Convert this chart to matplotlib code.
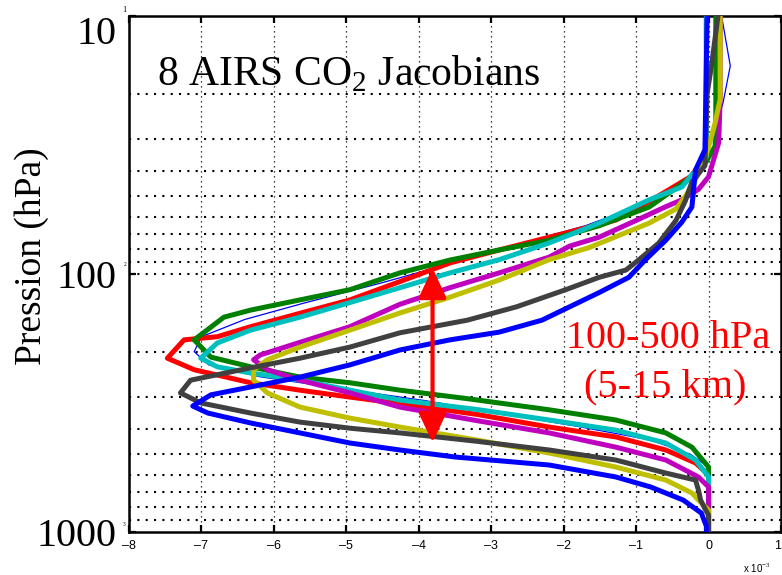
import matplotlib
matplotlib.use("Agg")
import matplotlib.pyplot as plt
from matplotlib.patches import FancyArrowPatch
from matplotlib.ticker import FixedLocator, FuncFormatter, NullLocator

# Jacobian profiles: pressure (hPa) and value (x 1e-3)
P_BLUE = [10, 33, 39.5, 55, 63, 74, 88, 103, 118, 151, 168, 180, 197, 225, 251, 274, 294, 325,
          346, 378, 413, 452, 481, 512, 550, 612, 669, 752, 844, 950, 1000]
X_BLUE = [-0.02, -0.05, -0.18, -0.23, -0.37, -0.59, -0.87, -1.10, -1.51, -2.30, -2.89, -3.57, -4.26,
          -4.95, -5.64, -6.32, -6.87, -7.12, -6.91, -6.32, -5.64, -4.95, -4.26, -3.5, -2.20, -1.28,
          -0.8, -0.35, -0.10, -0.03, -0.03]

P_GRAY = [10, 15.6, 20, 38, 44, 52, 62, 76, 88, 96.5, 103, 115, 134, 151, 169, 192, 212, 231, 258,
          289, 316, 346, 375, 396, 413, 445, 481, 526, 591, 629, 687, 752, 822, 860, 1000]
X_GRAY = [0.13, 0.04, -0.02, -0.05, -0.23, -0.32, -0.45, -0.69, -0.96, -1.14, -1.51, -1.97, -2.65,
          -3.33, -4.26, -4.95, -5.64, -6.32, -7.15, -7.29, -7.01, -6.32, -5.64, -4.95, -4.26, -3.2,
          -2.20, -1.28, -0.59, -0.18, -0.14, -0.11, -0.04, 0.0, 0.0]

P_YELLOW = [10, 21, 26, 30, 36, 43, 50, 56, 63.5, 74, 79, 88, 105.5, 123, 141.6, 165, 192, 215, 235,
            258, 289, 328, 362, 392, 440, 494, 560, 629, 706, 752, 822, 1000]
X_YELLOW = [0.16, 0.16, 0.09, 0.03, -0.05, -0.18, -0.32, -0.45, -0.82, -1.4, -1.65, -2.2, -2.89,
            -3.57, -4.26, -4.95, -5.64, -6.09, -6.28, -6.28, -6.09, -5.64, -4.95, -4.26, -3.2, -2.2,
            -1.28, -0.59, -0.23, -0.14, 0.0, 0.0]

P_MAGENTA = [10, 21, 31, 38.5, 42, 47, 51.6, 55, 62, 72, 78, 86, 99, 113, 131, 160, 184, 206, 215,
             235, 258, 289, 328, 370, 413, 469, 526, 612, 669, 1000]
X_MAGENTA = [0.16, 0.16, 0.14, 0.04, 0.0, -0.14, -0.37, -0.6, -1.0, -1.51, -1.92, -2.2, -2.89,
             -3.57, -4.26, -4.95, -5.64, -6.19, -6.28, -6.09, -5.64, -4.95, -4.26, -3.2, -2.2,
             -1.28, -0.59, -0.14, 0.0, 0.0]

P_CYAN = [10, 35, 40, 41.3, 46, 51.6, 63.5, 75.8, 88, 99, 113, 129, 147, 165, 185, 212, 229, 242,
          258, 282, 308, 335, 368, 403, 452, 526, 612, 1000]
X_CYAN = [-0.03, -0.03, -0.18, -0.23, -0.37, -0.82, -1.51, -2.2, -2.89, -3.57, -4.26, -4.95, -5.64,
          -6.32, -6.78, -7.01, -6.78, -6.32, -5.64, -4.95, -4.26, -3.2, -2.2, -1.28, -0.59, -0.18,
          0.0, 0.0]

P_RED = [10, 35, 42, 50, 61.8, 72, 80.7, 90.6, 107, 126, 142, 160, 175, 180, 212, 235, 264, 282,
         300, 318, 350, 392, 428, 481, 540, 600, 1000]
X_RED = [-0.03, -0.03, -0.25, -0.7, -1.28, -2.2, -2.89, -3.57, -4.26, -4.95, -5.64, -6.32, -6.78,
         -7.24, -7.47, -7.1, -6.32, -5.64, -4.95, -4.26, -3.2, -2.2, -1.28, -0.59, -0.18, 0.0, 0.0]

P_GREEN = [10, 28, 32, 37, 42, 55, 65, 74, 80.7, 88.3, 99, 115, 126, 138, 147, 180, 210, 229, 251,
           264, 282, 305, 336, 368, 413, 469, 560, 1000]
X_GREEN = [0.1, 0.1, 0.09, -0.04, -0.23, -0.82, -1.51, -2.2, -2.89, -3.57, -4.26, -4.95, -5.64,
           -6.32, -6.69, -7.1, -6.87, -6.32, -5.64, -4.95, -4.26, -3.3, -2.2, -1.28, -0.59, -0.23,
           0.0, 0.0]

P_THIN = [10, 15.6, 21.7, 30, 38, 45, 55, 65, 75, 90, 108, 130, 150, 175, 200, 225, 250, 280, 310,
          350, 390, 440, 500, 560, 1000]
X_THIN = [0.18, 0.3, 0.2, 0.05, -0.1, -0.4, -1.0, -1.7, -2.5, -3.5, -4.5, -5.6, -6.4, -7.0, -7.1,
          -6.9, -6.2, -5.0, -3.9, -2.8, -1.8, -0.8, -0.25, 0.0, 0.0]

X_TICKS = [-8, -7, -6, -5, -4, -3, -2, -1, 0, 1]
Y_TICKS = [10, 100, 1000]
Y_GRID = [20, 30, 40, 50, 60, 70, 80, 90, 100, 200, 300, 400, 500, 600, 700, 800, 900]
ARROW_TOP, ARROW_BOTTOM, ARROW_X = 95, 450, -3.81

SERIF = "Liberation Serif"
plt.rcParams["mathtext.fontset"] = "custom"
plt.rcParams["mathtext.rm"] = SERIF

fig = plt.figure(figsize=(7.82, 5.75), dpi=100)
ax = fig.add_axes([129 / 782, 43 / 575, 652 / 782, 516 / 575])

ax.set_yscale("log")
ax.set_xlim(-8, 1)
ax.set_ylim(1000, 10)

# grid
for v in Y_GRID:
    ax.axhline(v, color="black", lw=1.5, ls=(0, (1, 3)), zorder=1)
for v in X_TICKS[1:-1]:
    ax.axvline(v, color="black", lw=0.9, ls=(0, (1, 3)), zorder=1)

lw = 3.6
ax.plot(X_THIN, P_THIN, color="blue", lw=0.9, zorder=2)
ax.plot(X_RED, P_RED, color="red", lw=lw, zorder=3)
ax.plot(X_GREEN, P_GREEN, color=(0, 0.5, 0), lw=lw, zorder=3)
ax.plot(X_CYAN, P_CYAN, color=(0, 0.75, 0.75), lw=lw, zorder=3)
ax.plot(X_MAGENTA, P_MAGENTA, color=(0.75, 0, 0.75), lw=lw, zorder=3)
ax.plot(X_YELLOW, P_YELLOW, color=(0.75, 0.75, 0), lw=lw, zorder=3)
ax.plot(X_GRAY, P_GRAY, color=(0.25, 0.25, 0.25), lw=lw, zorder=3)
ax.plot(X_BLUE, P_BLUE, color="blue", lw=lw, zorder=3)

arrow = FancyArrowPatch((ARROW_X, ARROW_BOTTOM), (ARROW_X, ARROW_TOP),
                        arrowstyle="<|-|>,head_length=1.8,head_width=0.85",
                        mutation_scale=10, color="red", lw=3, shrinkA=0, shrinkB=0, zorder=4)
ax.add_patch(arrow)

# axes styling
ax.xaxis.set_major_locator(FixedLocator(X_TICKS))
ax.yaxis.set_major_locator(FixedLocator(Y_TICKS))
ax.yaxis.set_minor_locator(NullLocator())
ax.xaxis.set_major_formatter(FuncFormatter(lambda v, pos: f"{int(v)}".replace("-", "\u2013")))
ax.yaxis.set_major_formatter(FuncFormatter(lambda v, pos: f"{int(v)}"))
ax.tick_params(axis="both", which="major", direction="in", top=True, right=True,
               length=5, width=1.6)
ax.tick_params(axis="x", labelsize=9, pad=6)
ax.tick_params(axis="y", labelsize=29, pad=9)
for lab in ax.get_xticklabels():
    lab.set_family("Liberation Sans")
ax.get_xticklabels()[-1].set_ha("right")  # the "1" sits on the figure edge
for lab in ax.get_yticklabels():
    lab.set_family(SERIF)
ax.get_yticklabels()[0].set_va("top")
for s in ax.spines.values():
    s.set_linewidth(1.8)

ax.set_ylabel("Pression (hPa)", family=SERIF, fontsize=27, va="center")
ax.yaxis.set_label_coords(-0.149, 0.535)

ax.text(0.043, 0.866, "8 AIRS CO$_2$ Jacobians", transform=ax.transAxes, family=SERIF,
        fontsize=30, va="baseline", ha="left")
ax.text(0.827, 0.357, "100-500 hPa", transform=ax.transAxes, family=SERIF, fontsize=29,
        color="red", va="baseline", ha="center")
ax.text(0.822, 0.262, "(5-15 km)", transform=ax.transAxes, family=SERIF, fontsize=29,
        color="red", va="baseline", ha="center")

# little exponent marks next to the y tick labels and the x multiplier
fig.text(122 / 782, 1 - 10 / 575, "1", family=SERIF, fontsize=6, ha="left", va="center")
fig.text(124 / 782, 1 - 265 / 575, "2", family=SERIF, fontsize=4, ha="left", va="center")
fig.text(123 / 782, 1 - 525 / 575, "3", family=SERIF, fontsize=4, ha="left", va="center")
fig.text(743 / 782, 1 - 568 / 575, "x 10$^{-3}$", family="Liberation Sans", fontsize=7,
         ha="left", va="center")

fig.savefig("out.png", dpi=100)
